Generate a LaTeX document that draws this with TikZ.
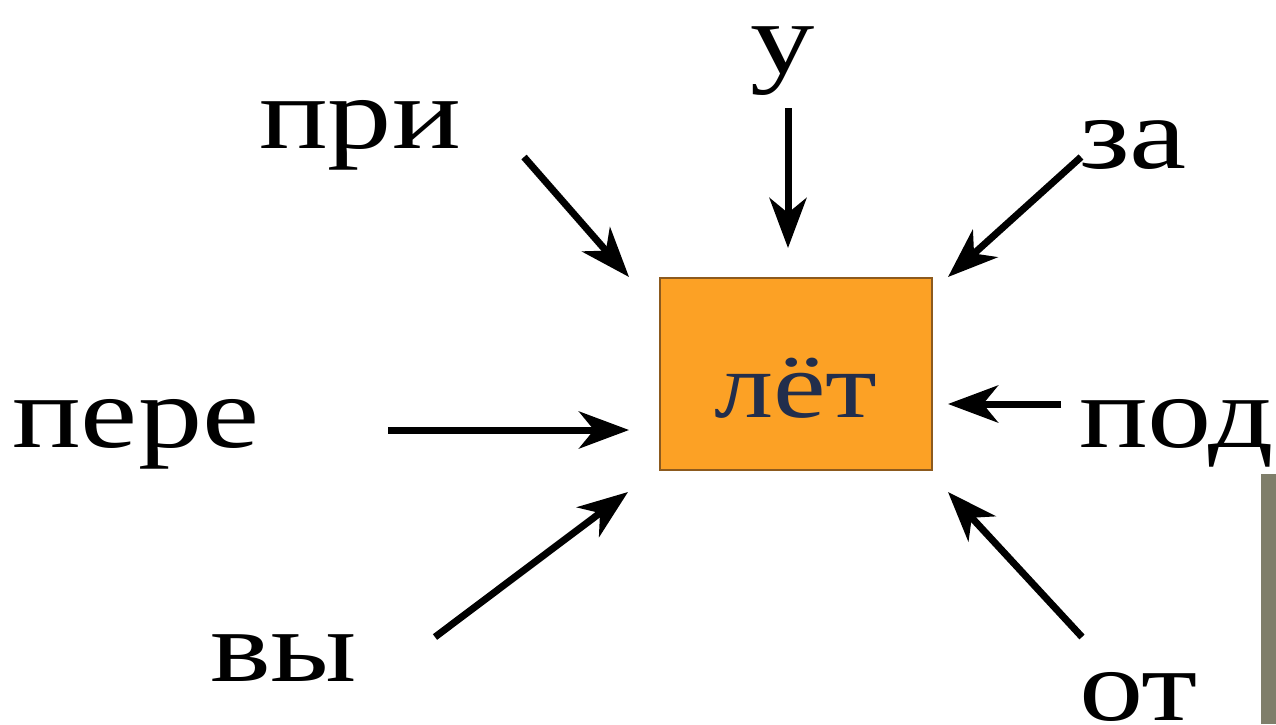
\documentclass[tikz,border=0pt]{standalone}
\usepackage{fontspec}
\setmainfont{Liberation Serif}[FakeStretch=1.26]
\usetikzlibrary{arrows.meta}
\definecolor{boxfill}{RGB}{252,161,37}
\definecolor{boxline}{RGB}{140,90,30}
\definecolor{rootcol}{RGB}{34,46,76}
\definecolor{barcol}{RGB}{127,126,106}
\tikzset{
  lbl/.style={anchor=base west, inner sep=0pt, font=\fontsize{102}{110}\selectfont},
  rootbox/.style={draw=boxline, line width=2pt, fill=boxfill, minimum width=272pt, minimum height=192pt, inner sep=0pt, text height=86pt, text depth=0pt, text=rootcol, font=\fontsize{94}{100}\selectfont},
  arr/.style={line width=7pt, -{Stealth[length=50pt,width=37pt,inset=15pt]}}
}
\begin{document}
\begin{tikzpicture}[x=1pt,y=-1pt]
\useasboundingbox (0,0) rectangle (1276,724);
\fill[barcol] (1261,474) rectangle (1276,724);
\node[rootbox] (root) at (796,374) {лёт};
\node[lbl] (pri) at (259,148) {при};
\node[lbl] (u) at (750,73) {у};
\node[lbl] (za) at (1079,168) {за};
\node[lbl] (pere) at (12,447) {пере};
\node[lbl] (pod) at (1079,447) {под};
\node[lbl] (vy) at (210,681) {вы};
\node[lbl] (ot) at (1079,720) {от};
\coordinate (pris) at (524,157); \coordinate (prie) at (629,277);
\coordinate (us) at (788,108); \coordinate (ue) at (788,248);
\coordinate (zas) at (1081,157); \coordinate (zae) at (948,277);
\coordinate (peres) at (388,430); \coordinate (peree) at (629,430);
\coordinate (pods) at (1061,404); \coordinate (pode) at (948,404);
\coordinate (vys) at (435,637); \coordinate (vye) at (628,492);
\coordinate (ots) at (1082,637); \coordinate (ote) at (948,492);
\draw[arr] (pris) -- (prie);
\draw[arr] (us) -- (ue);
\draw[arr] (zas) -- (zae);
\draw[arr] (peres) -- (peree);
\draw[arr] (pods) -- (pode);
\draw[arr] (vys) -- (vye);
\draw[arr] (ots) -- (ote);
\end{tikzpicture}
\end{document}
